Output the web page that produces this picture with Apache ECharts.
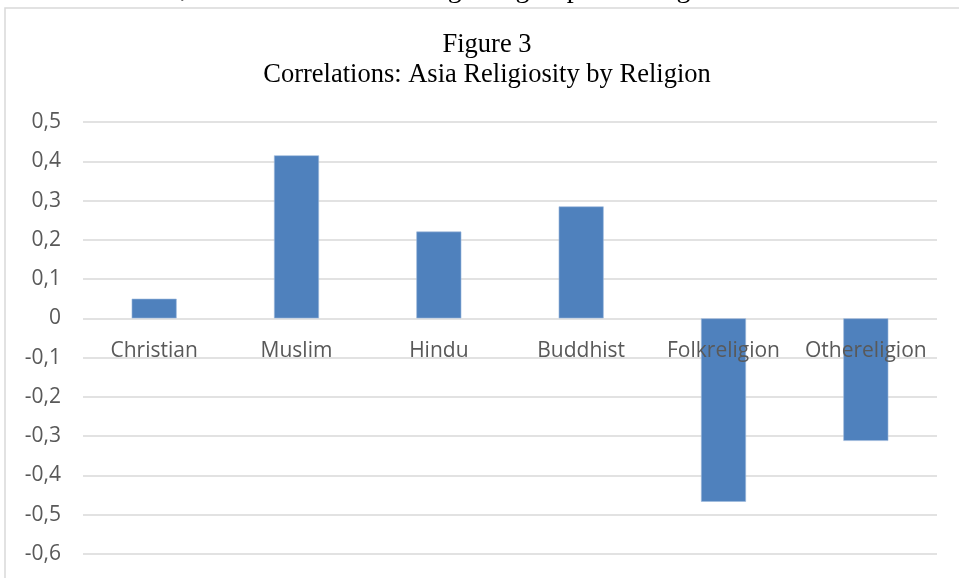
<!DOCTYPE html>
<html>
<head>
<meta charset="utf-8">
<script src="https://cdn.jsdelivr.net/npm/echarts@6/dist/echarts.min.js"></script>
<style>
  html, body { margin: 0; padding: 0; background: #ffffff; }
  #chart { width: 959px; height: 578px; }
</style>
</head>
<body>
<div id="chart"></div>
<script>
// Religion groups and their religiosity correlations
const categories = ['Christian', 'Muslim', 'Hindu', 'Buddhist', 'Folkreligion', 'Othereligion'];
const correlations = [0.05, 0.415, 0.221, 0.285, -0.467, -0.312];
const yMin = -0.6, yMax = 0.5, yStep = 0.1;

const chart = echarts.init(document.getElementById('chart'));

const axisFont = '"Open Sans", "Noto Sans", sans-serif';
const serifFont = '"Liberation Serif", "Times New Roman", serif';

chart.setOption({
  animation: false,
  backgroundColor: '#ffffff',
  graphic: [
    {
      type: 'text',
      left: 14,
      top: -24,
      silent: true,
      style: {
        text: 'Other and then, which are the least religious groups. See Figure 3.',
        font: '28px ' + serifFont,
        fill: '#000000'
      }
    },
    {
      type: 'rect',
      silent: true,
      shape: { x: 5, y: 8, width: 1000, height: 600 },
      style: { fill: 'none', stroke: '#d9d9d9', lineWidth: 1.5 },
      z: -1
    },
    {
      // chart heading, two centred lines
      type: 'text',
      x: 487,
      y: 30,
      silent: true,
      style: {
        text: 'Figure 3\nCorrelations: Asia Religiosity by Religion',
        font: '26.5px ' + serifFont,
        lineHeight: 30,
        align: 'center',
        fill: '#000000'
      }
    }
  ],
  grid: { left: 83, right: 22, top: 122, bottom: 24, containLabel: false, outerBoundsMode: 'none' },
  xAxis: {
    type: 'category',
    data: categories,
    z: 10,
    axisLine: { show: false, onZero: false },
    axisTick: { show: false },
    axisLabel: {
      margin: 22,
      fontFamily: axisFont,
      fontSize: 21,
      color: '#595959',
      interval: 0
    }
  },
  yAxis: {
    type: 'value',
    min: yMin,
    max: yMax,
    interval: yStep,
    axisLine: { show: false },
    axisTick: { show: false },
    splitLine: { lineStyle: { color: '#d9d9d9', width: 1.5 } },
    axisLabel: {
      margin: 22,
      fontFamily: axisFont,
      fontSize: 21,
      color: '#595959',
      formatter: function (v) {
        const r = Math.round(v * 10) / 10;
        if (r === 0) return '0';
        return r.toFixed(1).replace('.', ',');
      }
    }
  },
  series: [{
    type: 'bar',
    data: correlations,
    barWidth: '31.6%',
    itemStyle: { color: '#4f81bd', borderColor: '#9db8db', borderWidth: 0.6 },
    z: 2
  }]
});

// Place the category axis labels on the zero line of the value axis
const zeroY = chart.convertToPixel({ yAxisIndex: 0 }, 0);
const bottomY = chart.convertToPixel({ yAxisIndex: 0 }, yMin);
chart.setOption({ xAxis: { offset: zeroY - bottomY } });
</script>
</body>
</html>
